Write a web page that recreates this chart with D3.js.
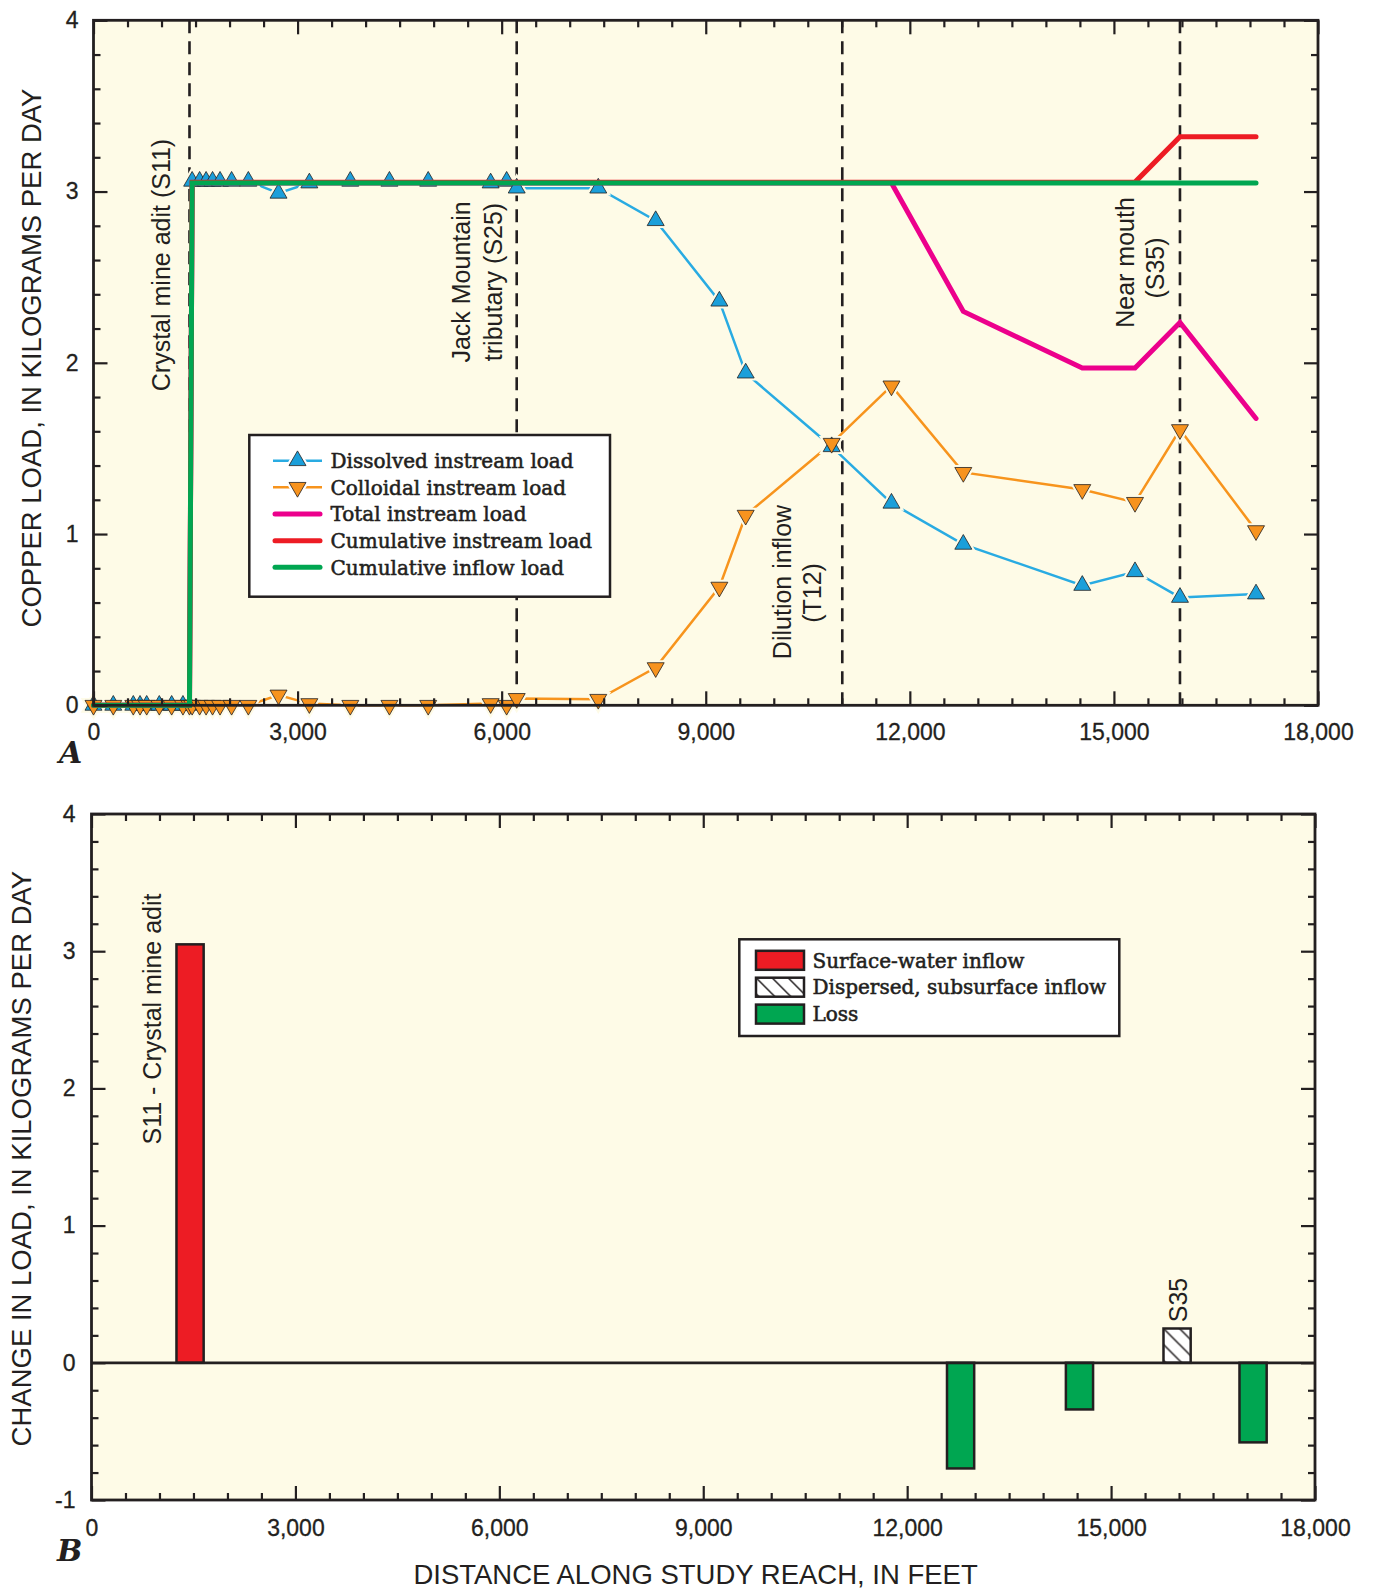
<!DOCTYPE html>
<html>
<head>
<meta charset="utf-8">
<script src="https://cdn.jsdelivr.net/npm/d3@7"></script>
<style>
  body { margin: 0; background: #fff; }
  svg { display: block; }
</style>
</head>
<body>
<svg id="chart" width="1373" height="1594"></svg>
<script>
// ---- data ----
// sampling sites along the reach, feet
const siteDist = [0, 291, 585, 684, 782, 967, 1149, 1315, 1411,
  1450, 1560, 1655, 1750, 1860, 2030, 2276,
  2720, 3173, 3775, 4350, 4920, 5838, 6073, 6221,
  7420, 8264, 9200, 9587, 10851,
  11730, 12786, 14535, 15310, 15971, 17089];
const dissolved = [0, 0, 0, 0, 0, 0, 0, 0, 0,
  3.06, 3.06, 3.06, 3.06, 3.06, 3.06, 3.06,
  2.99, 3.05, 3.06, 3.06, 3.06, 3.05, 3.06, 3.02,
  3.02, 2.83, 2.36, 1.94, 1.51,
  1.18, 0.94, 0.70, 0.78, 0.63, 0.65];
const colloidal = [0, 0, 0, 0, 0, 0, 0, 0, 0,
  0, 0, 0, 0, 0, 0, 0,
  0.06, 0.01, 0, 0, 0, 0.01, 0, 0.04,
  0.035, 0.22, 0.69, 1.11, 1.53,
  1.865, 1.36, 1.26, 1.185, 1.61, 1.02];

const totalDist = [0, 1411, 1450, 11730, 12786, 14535, 15310, 15971, 17089];
const totalLoad = [0, 0, 3.05, 3.05, 2.30, 1.97, 1.97, 2.235, 1.675];

const cumInstreamDist = [0, 1411, 1450, 15310, 15971, 17089];
const cumInstream = [0, 0, 3.055, 3.055, 3.32, 3.32];

const cumInflowDist = [0, 1411, 1450, 17089];
const cumInflow = [0, 0, 3.05, 3.05];

// reference sites shown as dashed lines
const siteLineDist = [1411, 6221, 11007, 15971];

// panel B: change in load between segments
const barDist = [1450, 12786, 14535, 15971, 17089];
const barChange = [3.05, -0.77, -0.34, 0.25, -0.58];
const barType = ["surface", "loss", "loss", "dispersed", "loss"];
const barWidthFt = 400;

const legendA = ["Dissolved instream load", "Colloidal instream load", "Total instream load",
  "Cumulative instream load", "Cumulative inflow load"];
const legendB = ["Surface-water inflow", "Dispersed, subsurface inflow", "Loss"];

// ---- styles ----
const ink = "#231f20";
const cream = "#fefbe7";
const sans = "'Liberation Sans', Arial, Helvetica, sans-serif";
const serif = "'DejaVu Serif', 'Century Schoolbook', Georgia, serif";
const col = {
  dissolvedLine: "#29abe2", dissolvedFill: "#1b9fda",
  colloidalLine: "#f7941d", colloidalFill: "#f7931e",
  total: "#ec008c", cumInstream: "#ed1c24", cumInflow: "#00a651",
  surface: "#ed1c24", loss: "#00a651"
};

const svg = d3.select("#chart");

const xA = d3.scaleLinear().domain([0, 18000]).range([93.5, 1318]);
const yA = d3.scaleLinear().domain([0, 4]).range([705.3, 20.3]);
const xB = d3.scaleLinear().domain([0, 18000]).range([91.5, 1315]);
const yB = d3.scaleLinear().domain([-1, 4]).range([1500, 814]);

function styleAxis(sel) {
  sel.select(".domain").remove();
  sel.selectAll(".tick line").attr("stroke", ink).attr("stroke-width", 2.2);
  sel.selectAll(".tick text").attr("fill", ink)
    .style("font-family", sans).style("font-size", "23px")
    .attr("stroke", ink).attr("stroke-width", 0.3);
}

// ticks on all four sides, pointing inward
function drawFrame(g, x, y, xPad, yPad) {
  const [L, R] = x.range();
  const [B, T] = y.range();
  const xs = d3.range(0, 18001, 500);
  const xMajor = xs.filter(v => v % 3000 === 0);
  const xMinor = xs.filter(v => v % 3000 !== 0);
  const [y0, y1] = y.domain();
  const ys = d3.range(y0 * 5, y1 * 5 + 1).map(i => i / 5);
  const yMajor = ys.filter(v => Number.isInteger(v));
  const yMinor = ys.filter(v => !Number.isInteger(v));

  g.append("g").attr("transform", `translate(0,${B})`)
    .call(d3.axisBottom(x).tickValues(xMinor).tickSize(-7).tickFormat("")).call(styleAxis);
  g.append("g").attr("transform", `translate(0,${B})`)
    .call(d3.axisBottom(x).tickValues(xMajor).tickSize(-14).tickPadding(xPad)
      .tickFormat(d3.format(","))).call(styleAxis);
  g.append("g").attr("transform", `translate(0,${T})`)
    .call(d3.axisTop(x).tickValues(xMinor).tickSize(-7).tickFormat("")).call(styleAxis);
  g.append("g").attr("transform", `translate(0,${T})`)
    .call(d3.axisTop(x).tickValues(xMajor).tickSize(-14).tickFormat("")).call(styleAxis);

  g.append("g").attr("transform", `translate(${L},0)`)
    .call(d3.axisLeft(y).tickValues(yMinor).tickSize(-7).tickFormat("")).call(styleAxis);
  g.append("g").attr("transform", `translate(${L},0)`)
    .call(d3.axisLeft(y).tickValues(yMajor).tickSize(-14).tickPadding(yPad)
      .tickFormat(d => String(d))).call(styleAxis);
  g.append("g").attr("transform", `translate(${R},0)`)
    .call(d3.axisRight(y).tickValues(yMinor).tickSize(-7).tickFormat("")).call(styleAxis);
  g.append("g").attr("transform", `translate(${R},0)`)
    .call(d3.axisRight(y).tickValues(yMajor).tickSize(-14).tickFormat("")).call(styleAxis);

  g.append("rect").attr("x", L).attr("y", T).attr("width", R - L).attr("height", B - T)
    .attr("fill", "none").attr("stroke", ink).attr("stroke-width", 2.8);
}

function vLabel(g, x, y, text, size) {
  g.append("text").attr("transform", `translate(${x},${y}) rotate(-90)`)
    .attr("text-anchor", "middle").attr("dy", "0.35em")
    .style("font-family", sans).style("font-size", (size || 25) + "px")
    .attr("fill", ink).text(text);
}

const tri = d3.symbol().type(d3.symbolTriangle).size(125);

function drawMarkers(g, pts, x, y, inverted, fill, halo) {
  const t = d => `translate(${x(d[0])},${y(d[1])})` + (inverted ? " rotate(180)" : "");
  g.selectAll(null).data(pts).join("path")
    .attr("d", tri).attr("transform", t)
    .attr("fill", halo ? cream : fill)
    .attr("stroke", halo ? cream : ink)
    .attr("stroke-width", halo ? 5 : 0.8);
}

// ================= Panel A =================
const gA = svg.append("g");
gA.append("rect").attr("x", xA(0)).attr("y", yA(4))
  .attr("width", xA(18000) - xA(0)).attr("height", yA(0) - yA(4)).attr("fill", cream);

gA.selectAll(null).data(siteLineDist).join("line")
  .attr("x1", d => xA(d)).attr("x2", d => xA(d))
  .attr("y1", yA(4)).attr("y2", yA(0))
  .attr("stroke", ink).attr("stroke-width", 2.6).attr("stroke-dasharray", "13,8");

// site annotations
const annA = [
  { at: 1411, lines: ["Crystal mine adit (S11)"], off: [-28.5], y: [265] },
  { at: 6221, lines: ["Jack Mountain", "tributary (S25)"], off: [-55.7, -23.7], y: [282, 282] },
  { at: 11007, lines: ["Dilution inflow", "(T12)"], off: [-60, -30], y: [582, 593] },
  { at: 15971, lines: ["Near mouth", "(S35)"], off: [-55, -24.5], y: [262.5, 268] }
];
annA.forEach(a => a.lines.forEach((s, i) => vLabel(gA, xA(a.at) + a.off[i], a.y[i], s)));

const lineA = d3.line().x(d => xA(d[0])).y(d => yA(d[1]));
const dissPts = d3.zip(siteDist, dissolved);
const collPts = d3.zip(siteDist, colloidal);

gA.append("path").attr("d", lineA(dissPts)).attr("fill", "none")
  .attr("stroke", col.dissolvedLine).attr("stroke-width", 2.5);
gA.append("path").attr("d", lineA(collPts)).attr("fill", "none")
  .attr("stroke", col.colloidalLine).attr("stroke-width", 2.5);
drawMarkers(gA, dissPts, xA, yA, false, null, true);
drawMarkers(gA, collPts, xA, yA, true, null, true);
drawMarkers(gA, dissPts, xA, yA, false, col.dissolvedFill, false);
drawMarkers(gA, collPts, xA, yA, true, col.colloidalFill, false);

[[totalDist, totalLoad, col.total],
 [cumInstreamDist, cumInstream, col.cumInstream],
 [cumInflowDist, cumInflow, col.cumInflow]].forEach(([dx, vy, c]) => {
  gA.append("path").attr("d", lineA(d3.zip(dx, vy))).attr("fill", "none")
    .attr("stroke", c).attr("stroke-width", 5)
    .attr("stroke-linecap", "round").attr("stroke-linejoin", "miter");
});

drawFrame(gA, xA, yA, 18, 15);

// legend A
const legA = gA.append("g");
legA.append("rect").attr("x", 249.3).attr("y", 435).attr("width", 360.7).attr("height", 161.7)
  .attr("fill", "#fff").attr("stroke", ink).attr("stroke-width", 2.5);
const legStyle = [
  { c: col.dissolvedLine, f: col.dissolvedFill, m: "up" },
  { c: col.colloidalLine, f: col.colloidalFill, m: "down" },
  { c: col.total }, { c: col.cumInstream }, { c: col.cumInflow }
];
legendA.forEach((name, i) => {
  const y = 460.7 + i * 26.65;
  const s = legStyle[i];
  if (s.m) {
    legA.append("line").attr("x1", 273).attr("x2", 322).attr("y1", y).attr("y2", y)
      .attr("stroke", s.c).attr("stroke-width", 2.5);
    const t = `translate(297.5,${y})` + (s.m === "down" ? " rotate(180)" : "");
    legA.append("path").attr("d", tri).attr("transform", t)
      .attr("fill", "#fff").attr("stroke", "#fff").attr("stroke-width", 5);
    legA.append("path").attr("d", tri).attr("transform", t)
      .attr("fill", s.f).attr("stroke", ink).attr("stroke-width", 0.8);
  } else {
    legA.append("line").attr("x1", 275).attr("x2", 320).attr("y1", y).attr("y2", y)
      .attr("stroke", s.c).attr("stroke-width", 5).attr("stroke-linecap", "round");
  }
  legA.append("text").attr("x", 330.5).attr("y", y).attr("dy", "0.36em")
    .style("font-family", serif).style("font-size", "20px").attr("fill", ink)
    .attr("stroke", ink).attr("stroke-width", 0.55).text(name);
});

vLabel(svg, 31.5, 358, "COPPER LOAD, IN KILOGRAMS PER DAY", 27.5);
svg.append("text").attr("x", 59).attr("y", 763)
  .style("font-family", serif).style("font-size", "30px")
  .style("font-style", "italic").style("font-weight", "bold").attr("fill", ink).text("A");

// ================= Panel B =================
const gB = svg.append("g");
const defs = svg.append("defs");
function hatch(id, ox, oy) {
  const p = defs.append("pattern").attr("id", id).attr("patternUnits", "userSpaceOnUse")
    .attr("x", ox).attr("y", oy).attr("width", 16).attr("height", 16);
  p.append("rect").attr("width", 16).attr("height", 16).attr("fill", "#fff");
  p.append("path").attr("d", "M0,0L16,16M-2,14L2,18M14,-2L18,2")
    .attr("stroke", ink).attr("stroke-width", 1.5);
}

gB.append("rect").attr("x", xB(0)).attr("y", yB(4))
  .attr("width", xB(18000) - xB(0)).attr("height", yB(-1) - yB(4)).attr("fill", cream);

const bars = d3.zip(barDist, barChange, barType);
bars.forEach(([d, v, t], i) => {
  const x0 = xB(d - barWidthFt / 2), x1 = xB(d + barWidthFt / 2);
  const yt = yB(Math.max(v, 0)), yb = yB(Math.min(v, 0));
  let fill = col[t];
  if (t === "dispersed") { hatch("hatchBar" + i, x0, yt); fill = `url(#hatchBar${i})`; }
  gB.append("rect").attr("x", x0).attr("y", yt).attr("width", x1 - x0).attr("height", yb - yt)
    .attr("fill", fill).attr("stroke", ink).attr("stroke-width", 2.5);
});

gB.append("line").attr("x1", xB(0)).attr("x2", xB(18000)).attr("y1", yB(0)).attr("y2", yB(0))
  .attr("stroke", ink).attr("stroke-width", 2.8);

vLabel(gB, 152.5, 1019, "S11 - Crystal mine adit");
vLabel(gB, 1178, 1300, "S35");

drawFrame(gB, xB, yB, 19.5, 16);

// legend B
const legB = gB.append("g");
legB.append("rect").attr("x", 739.3).attr("y", 939.3).attr("width", 380).attr("height", 96.7)
  .attr("fill", "#fff").attr("stroke", ink).attr("stroke-width", 2.5);
const legBType = ["surface", "dispersed", "loss"];
legendB.forEach((name, i) => {
  const y = 960.3 + i * 26.9;
  let fill = col[legBType[i]];
  if (legBType[i] === "dispersed") { hatch("hatchLeg", 756, y - 9.5); fill = "url(#hatchLeg)"; }
  legB.append("rect").attr("x", 756).attr("y", y - 9.5).attr("width", 48).attr("height", 19)
    .attr("fill", fill).attr("stroke", ink).attr("stroke-width", 2.5);
  legB.append("text").attr("x", 812.5).attr("y", y).attr("dy", "0.36em")
    .style("font-family", serif).style("font-size", "20px").attr("fill", ink)
    .attr("stroke", ink).attr("stroke-width", 0.55).text(name);
});

vLabel(svg, 21.8, 1158.6, "CHANGE IN LOAD, IN KILOGRAMS PER DAY", 27.5);
svg.append("text").attr("x", 695.6).attr("y", 1584.4).attr("text-anchor", "middle")
  .style("font-family", sans).style("font-size", "27.5px").attr("fill", ink)
  .text("DISTANCE ALONG STUDY REACH, IN FEET");
svg.append("text").attr("x", 57).attr("y", 1561)
  .style("font-family", serif).style("font-size", "30px")
  .style("font-style", "italic").style("font-weight", "bold").attr("fill", ink).text("B");
</script>
</body>
</html>
